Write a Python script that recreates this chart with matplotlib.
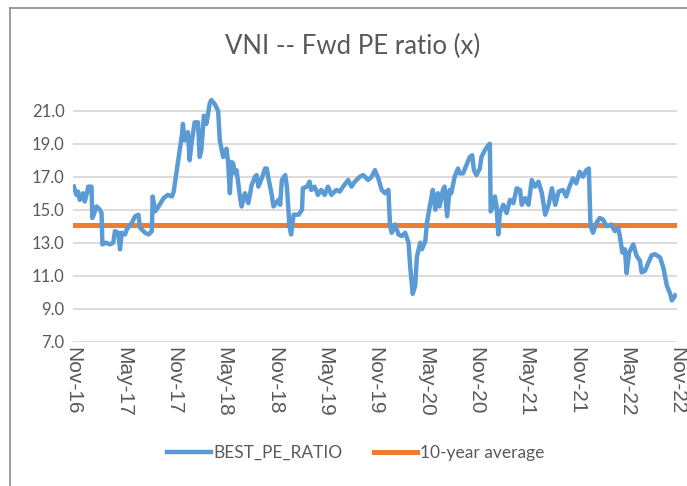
import matplotlib.pyplot as plt
from matplotlib.lines import Line2D

# months since Nov-2016 and forward PE
months = [
    0.1, 0.4, 0.6, 0.8, 1.2, 1.4, 1.7, 1.8, 2.2, 2.3, 2.4, 2.8, 3.2, 3.4, 3.5,
    3.9, 4.4, 4.8, 5.0, 5.4, 5.6, 5.8, 6.2, 6.4, 7.0, 7.4, 7.8, 8.0, 8.6, 9.0,
    9.4, 9.5, 9.8, 10.2, 10.8, 11.3, 11.8, 12.0, 12.2, 12.4, 12.6, 13.0, 13.1,
    13.3, 13.6, 13.7, 13.9, 14.1, 14.5, 14.9, 15.1, 15.3, 15.6, 15.9, 16.3,
    16.5, 16.9, 17.3, 17.5, 17.9, 18.3, 18.5, 18.7, 18.9, 19.1, 19.3, 19.5,
    19.9, 20.1, 20.5, 20.9, 21.3, 21.7, 21.9, 22.1, 22.5, 22.9, 23.1, 23.3,
    23.7, 23.9, 24.5, 24.7, 24.9, 25.3, 25.5, 25.8, 26.0, 26.3, 26.9, 27.3,
    27.4, 27.9, 28.2, 28.4, 28.8, 29.2, 29.6, 30.0, 30.4, 30.8, 31.4, 31.8,
    32.2, 32.8, 33.2, 33.6, 34.2, 34.6, 35.2, 35.6, 36.0, 36.4, 36.8, 37.2,
    37.6, 37.8, 38.0, 38.4, 38.8, 39.2, 39.6, 40.0, 40.2, 40.5, 40.8, 41.0,
    41.4, 41.6, 42.0, 42.2, 42.6, 42.9, 43.2, 43.5, 43.7, 44.1, 44.3, 44.6,
    44.9, 45.1, 45.5, 45.9, 46.1, 46.5, 46.9, 47.3, 47.6, 47.8, 48.1, 48.5,
    48.7, 49.1, 49.5, 49.7, 49.8, 50.1, 50.3, 50.5, 50.7, 50.9, 51.3, 51.7,
    52.1, 52.5, 52.9, 53.3, 53.5, 53.9, 54.3, 54.7, 55.1, 55.5, 55.9, 56.3,
    56.7, 57.1, 57.5, 57.9, 58.4, 58.8, 59.2, 59.6, 60.0, 60.4, 60.8, 61.2,
    61.5, 61.7, 62.0, 62.4, 62.8, 63.2, 63.6, 64.2, 64.6, 65.0, 65.2, 65.5,
    65.8, 66.0, 66.3, 66.8, 67.2, 67.6, 67.8, 68.2, 68.6, 69.0, 69.4, 70.0,
    70.4, 70.8, 71.2, 71.4, 71.8,
]
pe_ratio = [
    16.4, 15.9, 16.1, 15.6, 16.0, 15.5, 16.1, 16.4, 16.4, 14.5, 14.6, 15.2, 15.0, 14.8, 12.9,
    13.0, 12.9, 13.0, 13.7, 13.6, 12.6, 13.6, 13.5, 13.8, 14.2, 14.6, 14.7, 13.9, 13.6, 13.5,
    13.7, 15.8, 14.9, 15.2, 15.7, 15.9, 15.8, 16.1, 16.8, 17.5, 18.2, 19.6, 20.2,
    19.2, 19.5, 19.7, 18.0, 18.9, 20.3, 20.3, 18.2, 18.6, 20.7, 20.2, 21.45,
    21.65, 21.4, 21.0, 19.2, 18.2, 18.7, 17.8, 16.0, 17.9, 17.8, 17.2, 17.4,
    15.8, 15.2, 16.0, 15.4, 16.5, 17.0, 17.1, 16.4, 16.9, 17.5, 17.5, 16.9,
    15.9, 15.2, 15.6, 15.3, 16.8, 17.1, 16.4, 14.0, 13.5, 14.7, 14.7, 15.0,
    16.3, 16.4, 16.7, 16.2, 16.4, 15.9, 16.2, 15.9, 16.4, 15.9, 16.2, 16.1,
    16.4, 16.8, 16.4, 16.7, 17.0, 17.1, 16.8, 17.0, 17.4, 16.9, 16.2, 16.0,
    16.2, 14.0, 13.6, 14.1, 13.5, 13.4, 13.6, 13.0, 11.55, 9.9, 10.4, 12.15,
    13.0, 12.6, 13.1, 14.2, 15.4, 16.2, 15.0, 16.0, 15.2, 16.2, 16.4, 14.6,
    16.2, 16.0, 17.0, 17.5, 17.2, 17.2, 17.7, 18.2, 18.3, 17.4, 17.1, 17.5,
    18.2, 18.6, 18.9, 19.0, 14.9, 15.2, 15.8, 15.2, 13.5, 14.8, 15.3, 14.8,
    15.6, 15.4, 16.3, 16.2, 15.3, 15.7, 15.3, 16.8, 16.4, 16.7, 16.0, 14.7,
    15.3, 16.3, 15.3, 16.1, 16.2, 15.8, 16.4, 16.9, 16.6, 17.3, 17.0, 17.4,
    17.5, 14.0, 13.6, 14.2, 14.5, 14.4, 14.0, 14.1, 13.7, 13.9, 13.4, 12.4,
    12.6, 11.15, 12.4, 12.9, 12.2, 11.9, 11.2, 11.3, 11.8, 12.25, 12.3, 12.1,
    11.45, 10.4, 9.9, 9.5, 9.8,
]
avg_10y = 14.1

tick_months = [0, 6, 12, 18, 24, 30, 36, 42, 48, 54, 60, 66, 72]
tick_labels = ['Nov-16', 'May-17', 'Nov-17', 'May-18', 'Nov-18', 'May-19', 'Nov-19',
               'May-20', 'Nov-20', 'May-21', 'Nov-21', 'May-22', 'Nov-22']
y_ticks = [7, 9, 11, 13, 15, 17, 19, 21]

fig = plt.figure(figsize=(6.87, 4.86), dpi=100)
ax = fig.add_axes([0.1063, 0.297, 0.879, 0.509])

ax.plot(months, pe_ratio, color='#5B9BD5', linewidth=3.2, solid_joinstyle='round',
        label='BEST_PE_RATIO', zorder=3)
ax.plot([0, 72], [avg_10y, avg_10y], color='#ED7D31', linewidth=3.6,
        label='10-year average', zorder=2)

ax.set_xlim(0, 72)
ax.set_ylim(7, 22)
ax.set_yticks(y_ticks)
ax.set_yticklabels([f"{v:.1f}" for v in y_ticks], fontfamily='Lato', fontsize=12, color='#595959')
ax.set_xticks(tick_months)
ax.set_xticklabels(tick_labels, rotation=270, fontfamily='Liberation Sans', fontsize=15,
                   color='#595959')
ax.tick_params(axis='both', length=0, pad=6)
ax.tick_params(axis='x', pad=4)
ax.grid(True, axis='y', color='#D9D9D9', linewidth=1.3)
ax.set_axisbelow(True)
for s in ax.spines.values():
    s.set_visible(False)

fig.text(0.514, 0.905, 'VNI -- Fwd PE ratio (x)', ha='center', va='center',
         fontfamily='Lato', fontsize=18.5, color='#595959')

leg = fig.legend(loc='center', bbox_to_anchor=(0.518, 0.068), ncol=2, frameon=False,
                 prop={'family': 'Lato', 'size': 12.5}, handlelength=2.5, columnspacing=1.8,
                 handletextpad=0.15)
for t in leg.get_texts():
    t.set_color('#595959')

# chart frame (top and left edge only are visible in the crop)
fig.add_artist(Line2D([10 / 687, 10 / 687], [0, 1 - 8 / 486], transform=fig.transFigure,
                      color='#8C8C8C', linewidth=1.2))
fig.add_artist(Line2D([10 / 687, 1], [1 - 8 / 486, 1 - 8 / 486], transform=fig.transFigure,
                      color='#8C8C8C', linewidth=1.2))

fig.savefig('out.png', dpi=100)
